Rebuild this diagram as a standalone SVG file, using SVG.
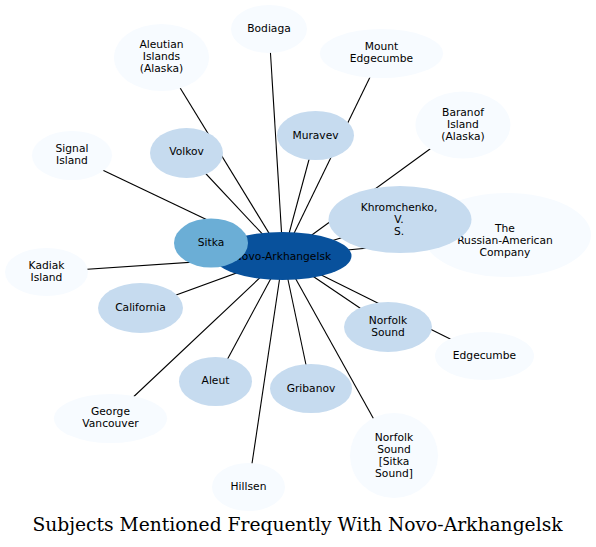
<svg xmlns="http://www.w3.org/2000/svg" width="596" height="547" viewBox="0 0 596 547">
<style>
.e{stroke:#000;stroke-width:1.1;fill:none}
.l{fill:#f7fbff}
.m{fill:#c6dbef}
.t{font-family:"DejaVu Sans",sans-serif;font-size:10.7px;fill:#000;text-anchor:middle}
.title{font-family:"DejaVu Serif",serif;font-size:18.7px;fill:#000;text-anchor:middle}
</style>
<rect width="596" height="547" fill="#fff"/>
<g id="edges">
<line class="e" x1="283" y1="256" x2="161.5" y2="57.5"/>
<line class="e" x1="283" y1="256" x2="269" y2="29"/>
<line class="e" x1="283" y1="256" x2="381.5" y2="53.5"/>
<line class="e" x1="283" y1="256" x2="463" y2="125"/>
<line class="e" x1="283" y1="256" x2="72" y2="155.5"/>
<line class="e" x1="283" y1="256" x2="186.5" y2="153"/>
<line class="e" x1="283" y1="256" x2="315.5" y2="135.5"/>
<line class="e" x1="283" y1="256" x2="400" y2="219.5"/>
<line class="e" x1="283" y1="256" x2="507" y2="235"/>
<line class="e" x1="283" y1="256" x2="211" y2="243"/>
<line class="e" x1="283" y1="256" x2="46.5" y2="272"/>
<line class="e" x1="283" y1="256" x2="140.5" y2="308"/>
<line class="e" x1="283" y1="256" x2="388" y2="327"/>
<line class="e" x1="283" y1="256" x2="484.5" y2="356"/>
<line class="e" x1="283" y1="256" x2="215.5" y2="381.5"/>
<line class="e" x1="283" y1="256" x2="311" y2="388.5"/>
<line class="e" x1="283" y1="256" x2="110.5" y2="418.5"/>
<line class="e" x1="283" y1="256" x2="394" y2="455.5"/>
<line class="e" x1="283" y1="256" x2="248.5" y2="487"/>
</g>
<g id="n_aleutian"><ellipse class="l" cx="161.5" cy="57.5" rx="47.5" ry="33.5"/><text class="t" x="161.5" y="48">Aleutian</text><text class="t" x="161.5" y="60">Islands</text><text class="t" x="161.5" y="72">(Alaska)</text></g>
<g id="n_bodiaga"><ellipse class="l" cx="269" cy="29" rx="38" ry="24"/><text class="t" x="269" y="32">Bodiaga</text></g>
<g id="n_mount"><ellipse class="l" cx="381.5" cy="53.5" rx="61.5" ry="24.5"/><text class="t" x="381.5" y="50">Mount</text><text class="t" x="381.5" y="62">Edgecumbe</text></g>
<g id="n_baranof"><ellipse class="l" cx="463" cy="125" rx="47.5" ry="33.5"/><text class="t" x="463" y="116">Baranof</text><text class="t" x="463" y="128">Island</text><text class="t" x="463" y="140">(Alaska)</text></g>
<g id="n_signal"><ellipse class="l" cx="72" cy="155.5" rx="40" ry="24.5"/><text class="t" x="72" y="152">Signal</text><text class="t" x="72" y="164">Island</text></g>
<g id="n_volkov"><ellipse class="m" cx="186.5" cy="153" rx="36.5" ry="25"/><text class="t" x="186.5" y="155">Volkov</text></g>
<g id="n_muravev"><ellipse class="m" cx="315.5" cy="135.5" rx="38.5" ry="24.5"/><text class="t" x="315.5" y="138.5">Muravev</text></g>
<g id="n_rac"><ellipse class="l" cx="507" cy="235" rx="84" ry="42"/><text class="t" x="505" y="232">The</text><text class="t" x="505" y="244">Russian-American</text><text class="t" x="505" y="256">Company</text></g>
<g id="n_khrom"><ellipse class="m" cx="400" cy="219.5" rx="71.5" ry="33.5"/><text class="t" x="399" y="211">Khromchenko,</text><text class="t" x="399" y="223">V.</text><text class="t" x="399" y="235">S.</text></g>
<g id="n_center"><ellipse cx="282.5" cy="256" rx="69" ry="24" fill="#08519c"/><text class="t" x="282.5" y="260">Novo-Arkhangelsk</text></g>
<g id="n_sitka"><ellipse cx="211" cy="243" rx="37" ry="24.5" fill="#6baed6"/><text class="t" x="211" y="246">Sitka</text></g>
<g id="n_kadiak"><ellipse class="l" cx="46.5" cy="272" rx="41.5" ry="24"/><text class="t" x="46.5" y="269">Kadiak</text><text class="t" x="46.5" y="281">Island</text></g>
<g id="n_california"><ellipse class="m" cx="140.5" cy="308" rx="42.5" ry="25"/><text class="t" x="140.5" y="311">California</text></g>
<g id="n_norfolk"><ellipse class="m" cx="388" cy="327" rx="44" ry="25"/><text class="t" x="388" y="324">Norfolk</text><text class="t" x="388" y="336">Sound</text></g>
<g id="n_edgecumbe"><ellipse class="l" cx="484.5" cy="356" rx="49.5" ry="24"/><text class="t" x="484.5" y="359">Edgecumbe</text></g>
<g id="n_aleut"><ellipse class="m" cx="215.5" cy="381.5" rx="36.5" ry="24.5"/><text class="t" x="215.5" y="384">Aleut</text></g>
<g id="n_gribanov"><ellipse class="m" cx="311" cy="388.5" rx="41" ry="24.5"/><text class="t" x="311" y="391.5">Gribanov</text></g>
<g id="n_george"><ellipse class="l" cx="110.5" cy="418.5" rx="56.5" ry="24.5"/><text class="t" x="110.5" y="415">George</text><text class="t" x="110.5" y="427">Vancouver</text></g>
<g id="n_nss"><ellipse class="l" cx="394" cy="455.5" rx="44" ry="42.5"/><text class="t" x="394" y="441">Norfolk</text><text class="t" x="394" y="453">Sound</text><text class="t" x="394" y="465">[Sitka</text><text class="t" x="394" y="477">Sound]</text></g>
<g id="n_hillsen"><ellipse class="l" cx="248.5" cy="487" rx="36.5" ry="24"/><text class="t" x="248.5" y="490">Hillsen</text></g>
<text class="title" x="297.5" y="531">Subjects Mentioned Frequently With Novo-Arkhangelsk</text>
</svg>
